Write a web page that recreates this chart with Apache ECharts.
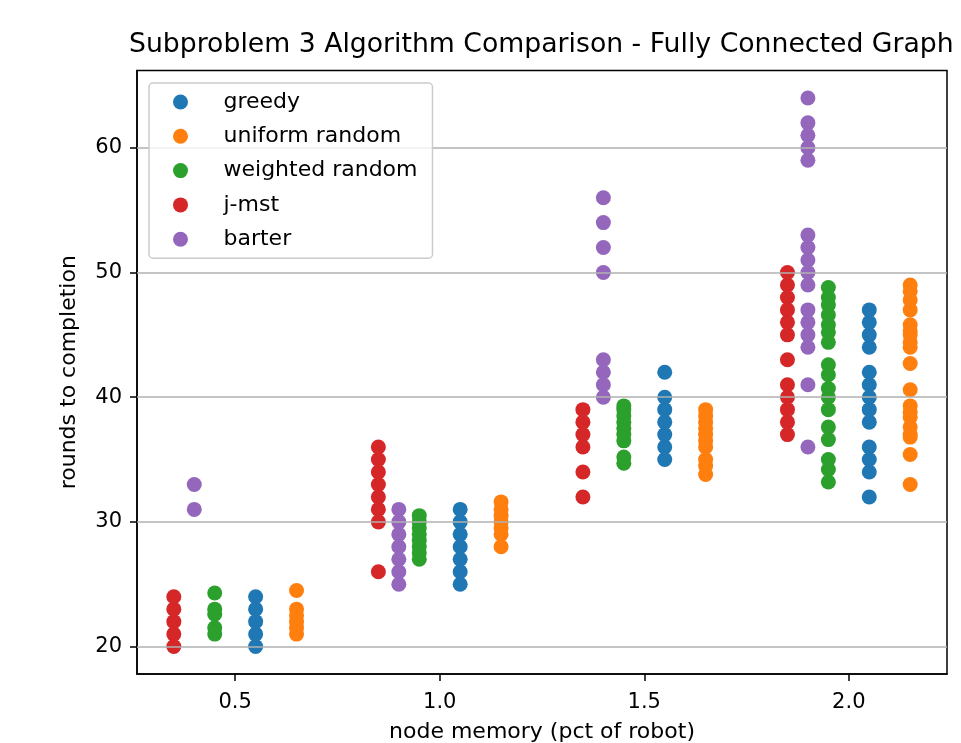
<!DOCTYPE html>
<html>
<head>
<meta charset="utf-8">
<script src="https://cdn.jsdelivr.net/npm/echarts@6/dist/echarts.min.js"></script>
<style>html,body{margin:0;padding:0;background:#fff}#c{width:961px;height:743px}</style>
</head>
<body>
<div id="c"></div>
<script>
// ---- data ----
var seriesNames = ['greedy', 'uniform random', 'weighted random', 'j-mst', 'barter'];
var seriesColors = ['#1f77b4', '#ff7f0e', '#2ca02c', '#d62728', '#9467bd'];

var greedyX = [0.55, 1.05, 1.55, 2.05];
var greedyY = [
  [20, 21, 22, 23, 24],
  [25, 26, 27, 28, 29, 30, 31],
  [35, 36, 37, 38, 39, 40, 42],
  [32, 34, 35, 36, 38, 39, 40, 41, 42, 44, 45, 46, 47]
];
var uniformX = [0.65, 1.15, 1.65, 2.15];
var uniformY = [
  [21, 21.5, 22, 22.5, 23, 24.5],
  [28, 29, 29.5, 30, 30.5, 31, 31.6],
  [33.8, 34.5, 35, 36, 36.5, 37, 37.5, 38, 38.5, 39],
  [33, 35.4, 36.8, 37, 37.6, 38.4, 38.8, 39.3, 40.6, 42.7, 44, 44.4, 45, 45.3, 45.8, 47, 47.8, 48.5, 49]
];
var weightedX = [0.45, 0.95, 1.45, 1.95];
var weightedY = [
  [21, 21.5, 22.6, 23, 24.3],
  [27, 27.5, 28, 28.5, 29, 29.5, 30, 30.5],
  [34.7, 35.2, 36.5, 37, 37.5, 38, 38.5, 39, 39.3],
  [33.2, 34.2, 35, 36.6, 37.6, 39, 40, 40.7, 41.8, 42.6, 44.4, 45.2, 45.8, 46.6, 47.4, 48, 48.8]
];
var jmstX = [0.35, 0.85, 1.35, 1.85];
var jmstY = [
  [20, 21, 22, 23, 24],
  [26, 30, 31, 32, 33, 34, 35, 36],
  [32, 34, 36, 37, 38, 39],
  [37, 38, 39, 40, 41, 43, 45, 46, 47, 48, 49, 50]
];
var barterX = [0.40, 0.90, 1.40, 1.90];
var barterY = [
  [31, 33],
  [25, 26, 27, 28, 29, 30, 31],
  [40, 41, 42, 43, 50, 52, 54, 56],
  [36, 41, 44, 45, 46, 47, 49, 50, 51, 52, 53, 59, 60, 61, 62, 64]
];

var xTicks = [0.5, 1.0, 1.5, 2.0];
var yTicks = [20, 30, 40, 50, 60];
var xRange = [0.26, 2.24];
var yRange = [17.8, 66.2];

// ---- build ----
function pairs(xs, ys) {
  var out = [];
  for (var i = 0; i < xs.length; i++) {
    for (var j = 0; j < ys[i].length; j++) out.push([xs[i], ys[i][j]]);
  }
  return out;
}
var allX = [greedyX, uniformX, weightedX, jmstX, barterX];
var allY = [greedyY, uniformY, weightedY, jmstY, barterY];

var FONT = 'DejaVu Sans';
var series = seriesNames.map(function (name, k) {
  return {
    name: name,
    type: 'scatter',
    data: pairs(allX[k], allY[k]),
    symbol: 'circle',
    symbolSize: 15,
    itemStyle: { color: seriesColors[k], opacity: 1 },
    emphasis: { disabled: true },
    z: 2
  };
});
series.push({
  name: '_grid',
  type: 'line',
  data: [],
  silent: true,
  markLine: {
    silent: true,
    symbol: ['none', 'none'],
    label: { show: false },
    lineStyle: { color: '#b0b0b0', width: 1.5, type: 'solid' },
    emphasis: { disabled: true },
    animation: false,
    data: yTicks.map(function (v) { return { yAxis: v }; })
  },
  z: 5
});

var chart = echarts.init(document.getElementById('c'), null, { renderer: 'canvas' });
chart.setOption({
  animation: false,
  backgroundColor: '#fff',
  title: {
    text: 'Subproblem 3 Algorithm Comparison - Fully Connected Graph',
    left: 124,
    top: 27,
    textStyle: { fontFamily: FONT, fontSize: 26.7, fontWeight: 'normal', color: '#000' }
  },
  legend: {
    data: seriesNames,
    orient: 'vertical',
    left: 149,
    top: 83,
    z: 10,
    padding: [8, 15, 8, 24],
    itemGap: 12.3,
    itemWidth: 30,
    itemHeight: 15,
    icon: 'circle',
    backgroundColor: 'rgba(255,255,255,0.8)',
    borderColor: '#cccccc',
    borderWidth: 1.5,
    borderRadius: 4,
    textStyle: { fontFamily: FONT, fontSize: 22, color: '#000', padding: [0, 0, 0, 23], lineHeight: 22 }
  },
  grid: {
    left: 137, right: 14, top: 70.5, bottom: 69,
    outerBoundsMode: 'none',
    containLabel: false,
    show: true, borderColor: '#000', borderWidth: 1.5, backgroundColor: 'transparent'
  },
  xAxis: {
    type: 'value',
    min: xRange[0], max: xRange[1],
    name: 'node memory (pct of robot)',
    nameLocation: 'middle',
    nameGap: 47,
    nameTextStyle: { fontFamily: FONT, fontSize: 22, color: '#000' },
    axisLine: { show: true, onZero: false, lineStyle: { color: '#000', width: 1.5 } },
    axisTick: { show: true, length: 7, lineStyle: { color: '#000', width: 1.5 }, customValues: xTicks },
    axisLabel: {
      customValues: xTicks, margin: 18, fontFamily: FONT, fontSize: 21, color: '#000',
      formatter: function (v) { return v.toFixed(1); }
    },
    splitLine: { show: false }
  },
  yAxis: {
    type: 'value',
    min: yRange[0], max: yRange[1],
    name: 'rounds to completion',
    nameLocation: 'middle',
    nameGap: 57,
    nameTextStyle: { fontFamily: FONT, fontSize: 22, color: '#000' },
    axisLine: { show: true, onZero: false, lineStyle: { color: '#000', width: 1.5 } },
    axisTick: { show: true, length: 7, lineStyle: { color: '#000', width: 1.5 }, customValues: yTicks },
    axisLabel: {
      customValues: yTicks, margin: 15, fontFamily: FONT, fontSize: 21, color: '#000',
      formatter: function (v) { return String(Math.round(v)); }
    },
    splitLine: { show: false }
  },
  series: series
});
</script>
</body>
</html>
